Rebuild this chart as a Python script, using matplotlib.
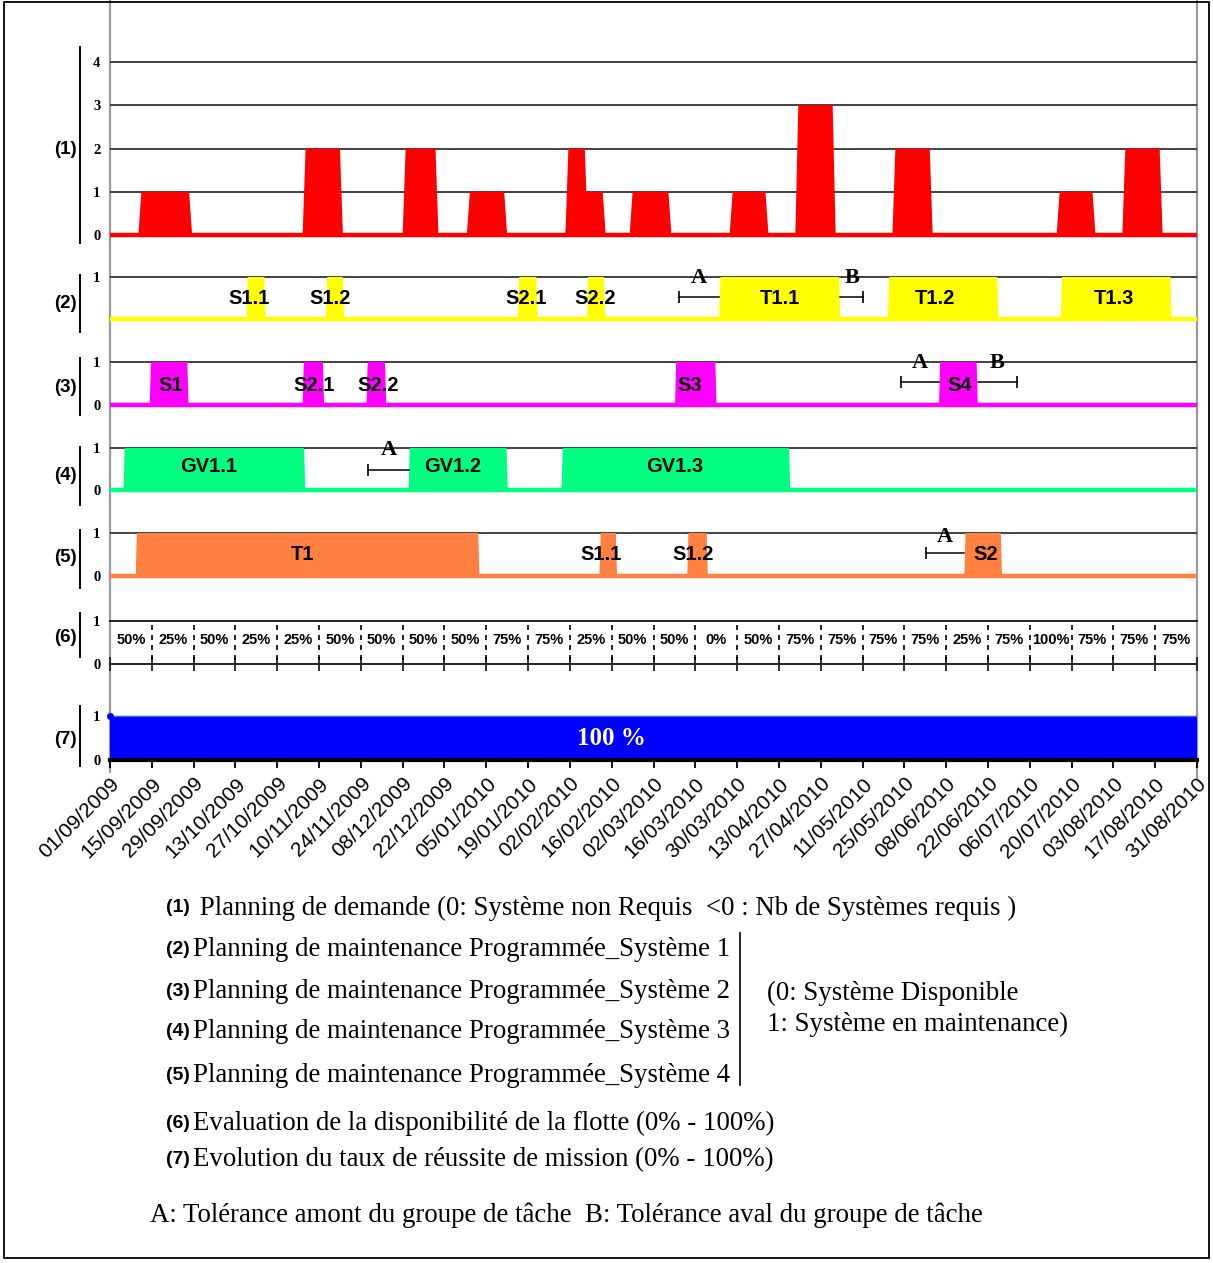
import numpy as np
import matplotlib
matplotlib.use("Agg")
import matplotlib.pyplot as plt
from matplotlib.patches import Rectangle

W, H = 1213, 1263
X0, X1 = 110, 1197          # pixel extent of the date axis
SANS = "Liberation Sans"
SERIF = "Liberation Serif"

# x values below are days counted from 01/09/2009
date_labels = ["01/09/2009", "15/09/2009", "29/09/2009", "13/10/2009", "27/10/2009",
               "10/11/2009", "24/11/2009", "08/12/2009", "22/12/2009", "05/01/2010",
               "19/01/2010", "02/02/2010", "16/02/2010", "02/03/2010", "16/03/2010",
               "30/03/2010", "13/04/2010", "27/04/2010", "11/05/2010", "25/05/2010",
               "08/06/2010", "22/06/2010", "06/07/2010", "20/07/2010", "03/08/2010",
               "17/08/2010", "31/08/2010"]
tick_days = np.arange(0, 365, 14)

# (1) demand planning: number of systems required
demand_start = [9.5, 64.5, 98.0, 119.5, 152.5, 152.5, 174.0, 207.5, 229.5, 262.0, 317.0, 339.0]
demand_end = [27.5, 78.0, 110.0, 133.0, 160.0, 166.0, 188.0, 220.5, 243.0, 275.5, 330.0, 352.5]
demand_level = [1, 2, 2, 1, 2, 1, 1, 1, 3, 2, 1, 2]

# (2) system 1 maintenance
sys1_start = [45.7, 72.3, 136.6, 159.7, 204.0, 260.5, 318.4]
sys1_end = [52.1, 78.4, 143.2, 165.8, 244.6, 297.5, 355.5]
sys1_names = ["S1.1", "S1.2", "S2.1", "S2.2", "T1.1", "T1.2", "T1.3"]
sys1_label_day = [46.5, 73.7, 139.2, 162.4, 224.4, 276.1, 336.1]
sys1_tol = [("A", 190.7, 204.0), ("B", 244.6, 252.2)]

# (3) system 2 maintenance
sys2_start = [13.3, 64.5, 85.9, 189.2, 277.6]
sys2_end = [26.3, 71.7, 92.5, 203.1, 290.6]
sys2_names = ["S1", "S2.1", "S2.2", "S3", "S4"]
sys2_label_day = [20.4, 68.3, 89.8, 194.2, 284.5]
sys2_tol = [("A", 264.9, 277.6), ("B", 290.6, 303.6)]

# (4) system 3 maintenance
sys3_start = [4.5, 100.0, 151.2]
sys3_end = [65.4, 133.2, 227.8]
sys3_names = ["GV1.1", "GV1.2", "GV1.3"]
sys3_label_day = [33.0, 114.9, 189.2]
sys3_tol = [("A", 86.5, 100.0)]

# (5) system 4 maintenance
sys4_start = [8.6, 163.9, 193.3, 286.1]
sys4_end = [123.7, 169.8, 200.2, 298.7]
sys4_names = ["T1", "S1.1", "S1.2", "S2"]
sys4_label_day = [64.3, 164.4, 195.4, 293.2]
sys4_tol = [("A", 273.1, 286.1)]

# (6) fleet availability per two-week period
availability = ["50%", "25%", "50%", "25%", "25%", "50%", "50%", "50%", "50%", "75%",
                "75%", "25%", "50%", "50%", "0%", "50%", "75%", "75%", "75%", "75%",
                "25%", "75%", "100%", "75%", "75%", "75%"]

# (7) mission success rate
mission_rate = 1.0

fig = plt.figure(figsize=(W / 100, H / 100), dpi=100)
bg = fig.add_axes([0, 0, 1, 1])
bg.set_xlim(0, W)
bg.set_ylim(H, 0)
bg.axis("off")


def panel(y_top_px, y_zero_px, top_val, pad_top=14, pad_bot=14):
    ppu = (y_zero_px - y_top_px) / top_val
    top = y_top_px - pad_top
    bot = y_zero_px + pad_bot
    ax = fig.add_axes([X0 / W, 1 - bot / H, (X1 - X0) / W, (bot - top) / H])
    ax.set_xlim(0, 364)
    ax.set_ylim(-pad_bot / ppu, top_val + pad_top / ppu)
    for sp in ax.spines.values():
        sp.set_visible(False)
    ax.patch.set_visible(False)
    ax.set_xticks([])
    ax.tick_params(axis="y", length=0, pad=7)
    return ax


def set_yticks(ax, vals):
    ax.set_yticks(vals)
    ax.set_yticklabels([str(v) for v in vals], fontfamily=SERIF,
                       fontweight="bold", fontsize=10.5)


def draw_system(ax, starts, ends, names, label_days, color, label_y, ramp=0.4):
    ax.axhline(1, color="#333333", lw=1.3, zorder=1)
    for s, e in zip(starts, ends):
        ax.fill([s, s + ramp, e - ramp, e], [0, 1, 1, 0], color=color, lw=0, zorder=2)
    ax.axhline(0, color=color, lw=3.2, zorder=3)
    for name, d in zip(names, label_days):
        ax.text(d, label_y, name, ha="center", va="center", fontsize=14.5,
                fontfamily=SANS, fontweight="bold", zorder=5)


def draw_tol(ax, tol, bar_y=0.52, letter_y=0.97):
    for kind, a, b in tol:
        ax.plot([a, b], [bar_y, bar_y], color="black", lw=1.1, zorder=4)
        cap = a if kind == "A" else b
        ax.plot([cap], [bar_y], marker="|", ms=9, mew=1.2, color="black", zorder=4)
        ax.text((a + b) / 2, letter_y, kind, ha="center", va="center", fontsize=16,
                fontfamily=SERIF, fontweight="bold", zorder=5)


# (1) demand
ax1 = panel(62, 235, 4)
set_yticks(ax1, [0, 1, 2, 3, 4])
for lv in [1, 2, 3, 4]:
    ax1.axhline(lv, color="#333333", lw=1.3, zorder=1)
for s, e, lv in zip(demand_start, demand_end, demand_level):
    ax1.fill([s, s + 1.0, e - 1.0, e], [0, lv, lv, 0], color="#ff0000", lw=0, zorder=2)
ax1.axhline(0, color="#ff0000", lw=3.2, zorder=3)

# (2)..(5) maintenance plans
ax2 = panel(277, 319, 1)
set_yticks(ax2, [1])
draw_system(ax2, sys1_start, sys1_end, sys1_names, sys1_label_day, "#ffff00", 0.5)
draw_tol(ax2, sys1_tol)

ax3 = panel(362, 405, 1)
set_yticks(ax3, [0, 1])
draw_system(ax3, sys2_start, sys2_end, sys2_names, sys2_label_day, "#ff00ff", 0.45)
draw_tol(ax3, sys2_tol, bar_y=0.53, letter_y=0.98)

ax4 = panel(448, 490, 1)
set_yticks(ax4, [0, 1])
draw_system(ax4, sys3_start, sys3_end, sys3_names, sys3_label_day, "#00ff80", 0.55)
draw_tol(ax4, sys3_tol, bar_y=0.48, letter_y=0.95)

ax5 = panel(533, 576, 1)
set_yticks(ax5, [0, 1])
draw_system(ax5, sys4_start, sys4_end, sys4_names, sys4_label_day, "#ff8040", 0.5)
draw_tol(ax5, sys4_tol, bar_y=0.53, letter_y=0.9)

# (6) fleet availability
ax6 = panel(621, 664, 1, pad_top=0, pad_bot=0)
set_yticks(ax6, [0, 1])
for side in ["top", "bottom"]:
    ax6.spines[side].set_visible(True)
    ax6.spines[side].set_color("#222222")
    ax6.spines[side].set_linewidth(1.4)
ax6.set_xticks(tick_days)
ax6.set_xticklabels([])
ax6.tick_params(axis="x", direction="inout", length=10, width=1.3, color="#222222")
ax6.vlines(tick_days[1:-1], 0.1, 0.92, colors="black", linestyles=(0, (3, 3)), lw=1.2)
mid_days = (tick_days[:-1] + tick_days[1:]) / 2
for d, txt in zip(mid_days, availability):
    ax6.text(d, 0.55, txt, ha="center", va="center", fontsize=10.5,
             fontfamily=SANS, fontweight="bold")

# (7) mission success rate
ax7 = panel(716, 760, 1, pad_top=8, pad_bot=0)
set_yticks(ax7, [0, 1])
ax7.fill_between([0, 364], 0, mission_rate, color="#0000ff", lw=0)
ax7.plot([0, 364], [mission_rate, mission_rate], color="#3060ff", lw=1)
ax7.plot([0], [mission_rate], "o", ms=4, color="#0000ff", clip_on=False)
ax7.text(167.8, 0.48, "100 %", ha="center", va="center", color="white",
         fontsize=18, fontfamily=SERIF, fontweight="bold")
ax7.spines["bottom"].set_visible(True)
ax7.spines["bottom"].set_linewidth(3)
ax7.spines["bottom"].set_color("black")
ax7.set_xticks(tick_days)
ax7.set_xticklabels(date_labels, rotation=45, ha="right", va="top",
                    rotation_mode="anchor", fontsize=15, fontfamily=SANS)
ax7.tick_params(axis="x", direction="out", length=6, width=1.3, pad=4)

# frame, axis lines and panel brackets
bg.add_patch(Rectangle((4, 2), 1205, 1256, fill=False, ec="black", lw=1.3))
bg.plot([110, 110], [0, 772], color="#9a9a9a", lw=1.6, zorder=0)
bg.plot([1197, 1197], [0, 778], color="#9a9a9a", lw=1.6, zorder=0)
brackets = [(47, 243), (275, 332), (358, 415), (447, 505), (530, 588), (613, 657), (706, 766)]
label_rows = [150, 303, 388, 475, 557, 637, 739]
for i, ((b0, b1), yl) in enumerate(zip(brackets, label_rows)):
    bg.plot([79.5, 79.5], [b0, b1], color="black", lw=1.4)
    bg.text(77, yl, "(%d)" % (i + 1), ha="right", va="center", fontsize=13.5,
            fontfamily=SANS, fontweight="bold")

# legend text under the chart
legend_rows = [
    (908, "(1)", " Planning de demande (0: Système non Requis  <0 : Nb de Systèmes requis )"),
    (949, "(2)", "Planning de maintenance Programmée_Système 1"),
    (991, "(3)", "Planning de maintenance Programmée_Système 2"),
    (1032, "(4)", "Planning de maintenance Programmée_Système 3"),
    (1075, "(5)", "Planning de maintenance Programmée_Système 4"),
    (1123, "(6)", "Evaluation de la disponibilité de la flotte (0% - 100%)"),
    (1160, "(7)", "Evolution du taux de réussite de mission (0% - 100%)"),
]
for y, tag, txt in legend_rows:
    bg.text(166, y, tag, ha="left", va="center", fontsize=14,
            fontfamily=SANS, fontweight="bold")
    bg.text(193, y, txt, ha="left", va="center", fontsize=19.4, fontfamily=SERIF)
bg.plot([740, 740], [933, 1085], color="black", lw=1.2)
bg.text(767, 993, "(0: Système Disponible", ha="left", va="center", fontsize=19.4,
        fontfamily=SERIF)
bg.text(767, 1024, "1: Système en maintenance)", ha="left", va="center", fontsize=19.4,
        fontfamily=SERIF)
bg.text(150, 1215, "A: Tolérance amont du groupe de tâche  B: Tolérance aval du groupe de tâche",
        ha="left", va="center", fontsize=19.4, fontfamily=SERIF)

fig.savefig("out.png", dpi=100)
